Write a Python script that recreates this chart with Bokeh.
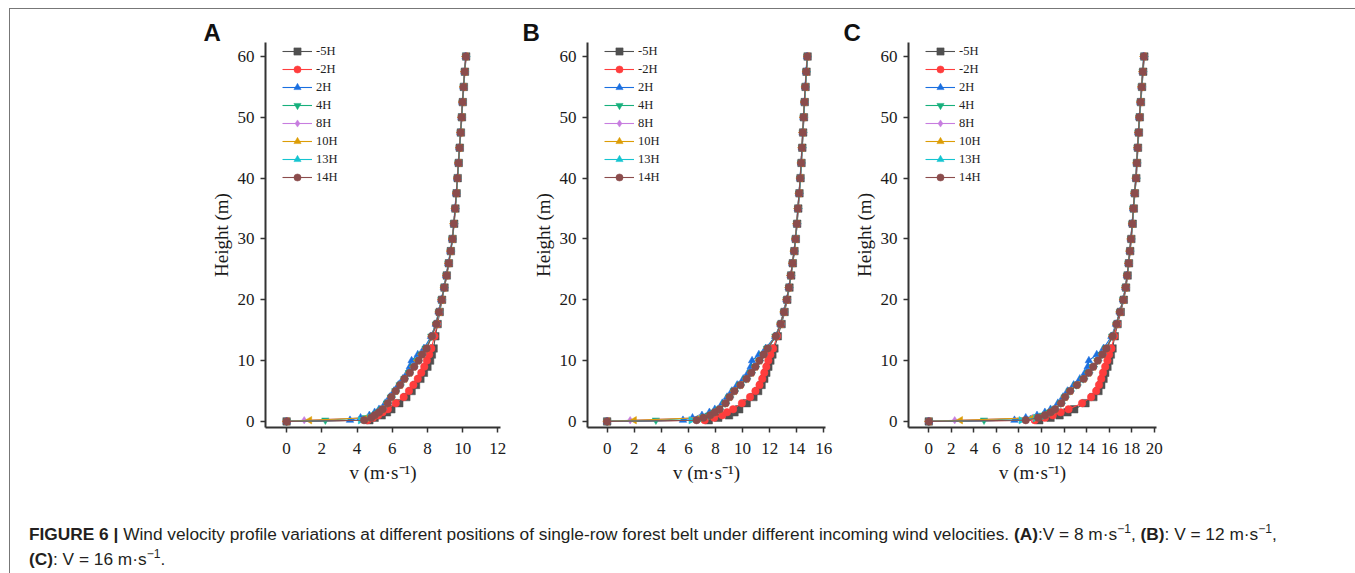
import math
from bokeh.plotting import figure
from bokeh.models import FixedTicker, Legend, LegendItem, Div, Range1d
from bokeh.layouts import row, column
from bokeh.embed import file_html
from bokeh.resources import INLINE

# ---------------- data ----------------
HEIGHTS = [0, 0.2, 0.6, 1, 1.5, 2, 3, 4, 5, 6, 7, 8, 9, 10, 11, 12, 14, 16, 18, 20, 22, 24, 26, 28,
           30, 32.5, 35, 37.5, 40, 42.5, 45, 47.5, 50, 52.5, 55, 57.5, 60]

SERIES = ["-5H", "-2H", "2H", "4H", "8H", "10H", "13H", "14H"]

# Panel A: V = 8 m/s
A_m5H = [0, 4.7, 5.0, 5.4, 5.7, 5.95, 6.4, 6.8, 7.1, 7.35, 7.6, 7.8, 8.0, 8.15, 8.25, 8.35, 8.45, 8.58, 8.7, 8.83, 8.97, 9.1, 9.22, 9.33, 9.43, 9.52, 9.59, 9.66, 9.72, 9.78, 9.84, 9.9, 9.96, 10.01, 10.07, 10.13, 10.2]
A_m2H = [0, 4.6, 4.9, 5.2, 5.45, 5.75, 6.2, 6.65, 6.95, 7.2, 7.45, 7.65, 7.82, 7.97, 8.1, 8.22, 8.4, 8.55, 8.68, 8.82, 8.96, 9.09, 9.21, 9.32, 9.42, 9.51, 9.58, 9.65, 9.71, 9.77, 9.83, 9.89, 9.95, 10.0, 10.06, 10.12, 10.19]
A_2H = [0, 3.6, 4.2, 4.7, 5.0, 5.25, 5.6, 5.85, 6.1, 6.35, 6.6, 6.85, 7.0, 7.1, 7.45, 7.8, 8.2, 8.47, 8.63, 8.78, 8.93, 9.06, 9.18, 9.3, 9.4, 9.49, 9.56, 9.63, 9.69, 9.75, 9.81, 9.87, 9.93, 9.98, 10.04, 10.1, 10.17]
A_4H = [0, 2.2, 4.5, 4.95, 5.2, 5.4, 5.7, 5.92, 6.17, 6.42, 6.68, 6.95, 7.2, 7.42, 7.65, 7.9, 8.22, 8.48, 8.64, 8.79, 8.94, 9.07, 9.19, 9.31, 9.41, 9.5, 9.57, 9.64, 9.7, 9.76, 9.82, 9.88, 9.94, 9.99, 10.05, 10.11, 10.18]
A_8H = [0, 1.0, 4.6, 5.0, 5.22, 5.43, 5.72, 5.94, 6.19, 6.44, 6.69, 6.97, 7.22, 7.45, 7.68, 7.93, 8.24, 8.5, 8.65, 8.8, 8.95, 9.08, 9.2, 9.32, 9.42, 9.5, 9.57, 9.64, 9.7, 9.76, 9.82, 9.88, 9.94, 9.99, 10.05, 10.11, 10.18]
A_10H = [0, 1.3, 4.55, 4.98, 5.23, 5.44, 5.74, 5.95, 6.2, 6.45, 6.7, 6.98, 7.22, 7.44, 7.68, 7.94, 8.25, 8.5, 8.66, 8.81, 8.95, 9.08, 9.2, 9.32, 9.42, 9.5, 9.57, 9.64, 9.7, 9.76, 9.82, 9.88, 9.94, 9.99, 10.05, 10.11, 10.18]
A_13H = [0, 4.2, 4.7, 5.0, 5.24, 5.45, 5.74, 5.96, 6.2, 6.45, 6.7, 6.98, 7.23, 7.47, 7.69, 7.94, 8.26, 8.52, 8.67, 8.82, 8.96, 9.09, 9.21, 9.33, 9.43, 9.51, 9.58, 9.65, 9.71, 9.77, 9.83, 9.89, 9.95, 10.0, 10.06, 10.12, 10.19]
A_14H = [0, 4.4, 4.8, 5.0, 5.25, 5.45, 5.75, 5.95, 6.2, 6.45, 6.7, 7.0, 7.25, 7.5, 7.7, 7.95, 8.25, 8.5, 8.65, 8.8, 8.95, 9.08, 9.2, 9.32, 9.42, 9.5, 9.57, 9.64, 9.7, 9.76, 9.82, 9.88, 9.94, 9.99, 10.05, 10.11, 10.18]

# Panel B: V = 12 m/s
B_m5H = [0, 7.5, 8.2, 9.0, 9.4, 9.75, 10.3, 10.8, 11.15, 11.4, 11.6, 11.75, 11.9, 12.05, 12.2, 12.35, 12.6, 12.88, 13.1, 13.3, 13.46, 13.59, 13.71, 13.83, 13.93, 14.03, 14.11, 14.2, 14.28, 14.35, 14.41, 14.47, 14.53, 14.59, 14.65, 14.72, 14.8]
B_m2H = [0, 7.2, 7.9, 8.5, 8.85, 9.3, 9.95, 10.55, 10.95, 11.25, 11.45, 11.6, 11.75, 11.9, 12.05, 12.25, 12.55, 12.84, 13.08, 13.28, 13.44, 13.57, 13.7, 13.82, 13.92, 14.02, 14.1, 14.19, 14.27, 14.34, 14.4, 14.46, 14.52, 14.58, 14.64, 14.71, 14.79]
B_2H = [0, 5.6, 6.3, 7.0, 7.55, 7.95, 8.5, 8.85, 9.2, 9.6, 10.05, 10.4, 10.6, 10.7, 11.2, 11.7, 12.4, 12.78, 13.03, 13.23, 13.4, 13.54, 13.67, 13.79, 13.89, 13.99, 14.07, 14.16, 14.24, 14.31, 14.37, 14.43, 14.49, 14.55, 14.61, 14.68, 14.76]
B_4H = [0, 3.6, 6.9, 7.5, 7.9, 8.25, 8.7, 9.0, 9.35, 9.8, 10.25, 10.6, 10.9, 11.2, 11.5, 11.8, 12.42, 12.79, 13.04, 13.24, 13.41, 13.55, 13.68, 13.8, 13.9, 14.0, 14.08, 14.17, 14.25, 14.32, 14.38, 14.44, 14.5, 14.56, 14.62, 14.69, 14.77]
B_8H = [0, 1.7, 6.8, 7.55, 7.93, 8.28, 8.73, 9.03, 9.38, 9.83, 10.28, 10.63, 10.93, 11.23, 11.53, 11.83, 12.44, 12.8, 13.05, 13.25, 13.42, 13.55, 13.68, 13.8, 13.9, 14.0, 14.08, 14.17, 14.25, 14.32, 14.38, 14.44, 14.5, 14.56, 14.62, 14.7, 14.78]
B_10H = [0, 2.0, 6.85, 7.57, 7.94, 8.29, 8.74, 9.04, 9.39, 9.84, 10.29, 10.64, 10.94, 11.24, 11.54, 11.84, 12.45, 12.8, 13.05, 13.25, 13.42, 13.55, 13.68, 13.8, 13.9, 14.0, 14.08, 14.17, 14.25, 14.32, 14.38, 14.44, 14.5, 14.56, 14.62, 14.7, 14.78]
B_13H = [0, 6.2, 7.0, 7.6, 7.96, 8.3, 8.76, 9.06, 9.41, 9.86, 10.31, 10.66, 10.96, 11.26, 11.56, 11.86, 12.46, 12.82, 13.07, 13.27, 13.44, 13.57, 13.7, 13.82, 13.92, 14.02, 14.1, 14.19, 14.27, 14.34, 14.4, 14.46, 14.52, 14.58, 14.64, 14.72, 14.8]
B_14H = [0, 6.6, 7.1, 7.6, 7.95, 8.3, 8.75, 9.05, 9.4, 9.85, 10.3, 10.65, 10.95, 11.25, 11.55, 11.85, 12.45, 12.8, 13.05, 13.25, 13.42, 13.55, 13.68, 13.8, 13.9, 14.0, 14.08, 14.17, 14.25, 14.32, 14.38, 14.44, 14.5, 14.56, 14.62, 14.7, 14.78]

# Panel C: V = 16 m/s
C_m5H = [0, 9.8, 10.8, 11.6, 12.3, 12.9, 13.9, 14.6, 15.05, 15.3, 15.5, 15.65, 15.85, 16.0, 16.15, 16.3, 16.5, 16.75, 17.03, 17.3, 17.5, 17.64, 17.76, 17.87, 17.97, 18.09, 18.19, 18.29, 18.41, 18.48, 18.56, 18.64, 18.72, 18.82, 18.92, 19.02, 19.12]
C_m2H = [0, 9.4, 10.3, 11.0, 11.7, 12.4, 13.6, 14.4, 14.85, 15.1, 15.3, 15.45, 15.65, 15.85, 16.0, 16.2, 16.45, 16.72, 17.0, 17.28, 17.48, 17.62, 17.74, 17.85, 17.95, 18.07, 18.17, 18.27, 18.4, 18.47, 18.54, 18.62, 18.7, 18.8, 18.9, 19.0, 19.1]
C_2H = [0, 7.6, 8.6, 9.6, 10.3, 10.8, 11.45, 11.9, 12.3, 12.85, 13.4, 13.85, 14.1, 14.2, 14.9, 15.5, 16.2, 16.6, 16.92, 17.22, 17.43, 17.58, 17.7, 17.81, 17.91, 18.03, 18.13, 18.23, 18.36, 18.43, 18.5, 18.58, 18.66, 18.76, 18.86, 18.96, 19.06]
C_4H = [0, 4.9, 9.3, 10.1, 10.7, 11.15, 11.7, 12.05, 12.5, 13.1, 13.7, 14.15, 14.55, 14.95, 15.35, 15.7, 16.27, 16.63, 16.94, 17.24, 17.44, 17.59, 17.71, 17.82, 17.92, 18.04, 18.14, 18.24, 18.37, 18.44, 18.51, 18.59, 18.67, 18.77, 18.87, 18.97, 19.07]
C_8H = [0, 2.3, 9.2, 10.2, 10.75, 11.18, 11.73, 12.08, 12.53, 13.13, 13.73, 14.18, 14.58, 14.98, 15.38, 15.73, 16.28, 16.64, 16.95, 17.25, 17.45, 17.6, 17.72, 17.83, 17.93, 18.05, 18.15, 18.25, 18.38, 18.45, 18.52, 18.6, 18.68, 18.78, 18.88, 18.98, 19.08]
C_10H = [0, 2.8, 9.25, 10.25, 10.77, 11.19, 11.74, 12.09, 12.54, 13.14, 13.74, 14.19, 14.59, 14.99, 15.39, 15.74, 16.29, 16.64, 16.95, 17.25, 17.45, 17.6, 17.72, 17.83, 17.93, 18.05, 18.15, 18.25, 18.38, 18.45, 18.52, 18.6, 18.68, 18.78, 18.88, 18.98, 19.08]
C_13H = [0, 8.2, 9.5, 10.3, 10.8, 11.2, 11.76, 12.11, 12.56, 13.16, 13.76, 14.21, 14.61, 15.01, 15.41, 15.76, 16.31, 16.66, 16.97, 17.27, 17.47, 17.62, 17.74, 17.85, 17.95, 18.07, 18.17, 18.27, 18.4, 18.47, 18.54, 18.62, 18.7, 18.8, 18.9, 19.0, 19.1]
C_14H = [0, 8.6, 9.7, 10.3, 10.8, 11.2, 11.75, 12.1, 12.55, 13.15, 13.75, 14.2, 14.6, 15.0, 15.4, 15.75, 16.3, 16.65, 16.95, 17.25, 17.45, 17.6, 17.72, 17.83, 17.93, 18.05, 18.15, 18.25, 18.38, 18.45, 18.52, 18.6, 18.68, 18.78, 18.88, 18.98, 19.08]

A_TICKS = [0, 2, 4, 6, 8, 10, 12]
B_TICKS = [0, 2, 4, 6, 8, 10, 12, 14, 16]
C_TICKS = [0, 2, 4, 6, 8, 10, 12, 14, 16, 18, 20]
Y_TICKS = [0, 10, 20, 30, 40, 50, 60]

# ---------------- style ----------------
COLORS = ["#505050", "#ff3d3d", "#1a6fe0", "#17b07c", "#c77ddf", "#dc9d06", "#14c4d0", "#8b4c4c"]
MARKERS = ["square", "circle", "triangle", "inverted_triangle", "diamond", "triangle", "triangle", "circle"]
ANGLES = [0, 0, 0, 0, 0, math.pi / 2, -math.pi / 2, 0]
SERIF = "Liberation Serif"

FIG_H = 481
MB_TOP = 33
MB_BOTTOM = 63
Y_START, Y_END = -1.0, 62.3


def make_panel(letter, data, x_start, x_end, x_ticks, width, b_left, b_right, letter_dx):
    p = figure(width=width, height=FIG_H, output_backend="svg", toolbar_location=None,
               x_range=Range1d(x_start, x_end), y_range=Range1d(Y_START, Y_END),
               min_border_left=b_left, min_border_right=b_right,
               min_border_top=MB_TOP, min_border_bottom=MB_BOTTOM)
    p.outline_line_color = None
    p.xgrid.visible = False
    p.ygrid.visible = False
    p.background_fill_color = "white"
    p.border_fill_color = "white"

    # panel letter as the figure title, pulled left over the axis area
    p.title.text = letter
    p.title.align = "left"
    p.title.offset = letter_dx
    p.title.standoff = -6
    p.title.text_font = "Liberation Sans"
    p.title.text_font_style = "bold"
    p.title.text_font_size = "24px"
    p.title.text_color = "#111111"

    items = []
    for i, name in enumerate(SERIES):
        xs = data[i]
        lr = p.line(xs, HEIGHTS, line_color=COLORS[i], line_width=1.1)
        sr = p.scatter(xs, HEIGHTS, marker=MARKERS[i], angle=ANGLES[i], size=7.5,
                       fill_color=COLORS[i], line_color=COLORS[i], line_width=0.5)
        items.append(LegendItem(label=name, renderers=[lr, sr]))

    leg = Legend(items=items, location=(17, 241), padding=0, spacing=0,
                 glyph_width=30, glyph_height=18, label_height=18, label_standoff=4,
                 border_line_color=None, background_fill_alpha=0,
                 label_text_font=SERIF, label_text_font_size="12.5px",
                 label_text_color="#222222")
    p.add_layout(leg)

    for ax in (p.xaxis[0], p.yaxis[0]):
        ax.axis_line_width = 2
        ax.axis_line_color = "#333333"
        ax.major_tick_line_width = 1.5
        ax.major_tick_line_color = "#333333"
        ax.major_tick_out = 5
        ax.major_tick_in = 0
        ax.minor_tick_out = 0
        ax.minor_tick_in = 0
        ax.major_label_text_font = SERIF
        ax.major_label_text_font_size = "17px"
        ax.major_label_text_color = "#1a1a1a"
        ax.axis_label_text_font = SERIF
        ax.axis_label_text_font_size = "19px"
        ax.axis_label_text_font_style = "normal"
        ax.axis_label_text_color = "#1a1a1a"

    p.xaxis[0].ticker = FixedTicker(ticks=x_ticks)
    p.yaxis[0].ticker = FixedTicker(ticks=Y_TICKS)
    p.xaxis[0].major_label_standoff = 10
    p.yaxis[0].major_label_standoff = 6
    p.xaxis[0].axis_label = "v (m\u00b7s\u207b\u00b9)"
    p.yaxis[0].axis_label = "Height (m)"
    p.xaxis[0].axis_label_standoff = 5
    p.yaxis[0].axis_label_standoff = 3
    return p


pA = make_panel("A", [A_m5H, A_m2H, A_2H, A_4H, A_8H, A_10H, A_13H, A_14H],
                -1.2, 12.15, A_TICKS, 500, 255, 10, -62)
pB = make_panel("B", [B_m5H, B_m2H, B_2H, B_4H, B_8H, B_10H, B_13H, B_14H],
                -1.45, 16.12, B_TICKS, 325, 77, 10, -65)
pC = make_panel("C", [C_m5H, C_m2H, C_2H, C_4H, C_8H, C_10H, C_13H, C_14H],
                -1.8, 20.2, C_TICKS, 517, 73, 196, -65)

SUP = '<sup style="line-height:0;font-size:0.7em">\u22121</sup>'
caption = Div(
    text=('<b>FIGURE 6 |</b> Wind velocity profile variations at different positions of '
          'single-row forest belt under different incoming wind velocities. '
          '<b>(A)</b>:V = 8 m\u00b7s' + SUP + ', <b>(B)</b>: V = 12 m\u00b7s' + SUP + ','
          '<br><b>(C)</b>: V = 16 m\u00b7s' + SUP + '.'),
    width=1342, height=83,
    styles={"font-family": "Liberation Sans, Arial, sans-serif", "font-size": "17.3px",
            "line-height": "25px", "color": "#231f20", "padding-left": "14px",
            "padding-top": "27px", "white-space": "nowrap", "box-sizing": "border-box"})

layout = column(row(pA, pB, pC), caption, margin=(8, 0, 0, 9),
                styles={"border-left": "1px solid #777777", "border-top": "1px solid #777777",
                        "border-right": "1px solid #777777"})

open("out.html", "w").write(file_html(layout, INLINE))
